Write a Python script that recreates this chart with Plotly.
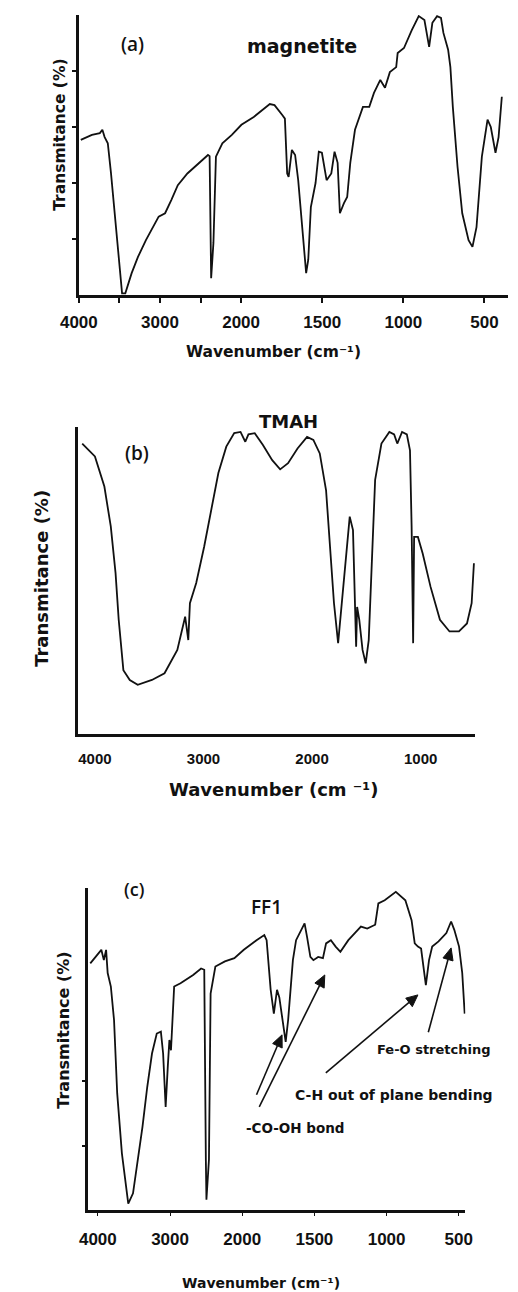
import plotly.graph_objects as go

# ---------------- data ----------------
wn_a = [3976, 3900, 3839, 3741, 3710, 3682, 3643, 3604, 3565, 3506, 3467, 3427, 3349, 3271, 3173,
        3016, 2937, 2859, 2780, 2662, 2545, 2408, 2388, 2369, 2341, 2310, 2231, 2114, 1998, 1922,
        1823, 1794, 1745, 1730, 1716, 1707, 1687, 1667, 1648, 1619, 1599, 1586, 1570, 1541, 1521,
        1502, 1473, 1444, 1424, 1405, 1391, 1366, 1346, 1327, 1298, 1249, 1210, 1181, 1142, 1113,
        1083, 1044, 1035, 996, 948, 905, 870, 841, 821, 792, 768, 753, 724, 710, 695, 666, 637,
        598, 574, 549, 516, 481, 461, 432, 413, 393]
t_a = [2.77, 2.82, 2.86, 2.89, 2.95, 2.82, 2.71, 2.18, 1.57, 0.75, 0.03, 0.03, 0.39, 0.68, 0.98,
       1.40, 1.46, 1.70, 1.96, 2.17, 2.32, 2.50, 2.48, 0.30, 0.93, 2.47, 2.71, 2.86, 3.04, 3.18,
       3.41, 3.39, 3.21, 3.15, 2.17, 2.11, 2.59, 2.50, 2.05, 1.11, 0.39, 0.63, 1.57, 2.00, 2.56,
       2.54, 2.05, 2.17, 2.56, 2.36, 1.46, 1.64, 1.75, 2.36, 2.95, 3.36, 3.36, 3.61, 3.84, 3.70,
       3.98, 4.07, 4.32, 4.41, 4.73, 4.98, 4.91, 4.43, 4.86, 4.98, 4.95, 4.68, 4.38, 4.07, 3.36,
       2.29, 1.46, 0.98, 0.86, 1.21, 2.47, 3.13, 3.00, 2.54, 2.82, 3.54]

wn_b = [4117, 4000, 3913, 3854, 3810, 3781, 3738, 3679, 3606, 3475, 3359, 3241, 3169, 3155, 3140,
        3125, 3067, 2994, 2921, 2863, 2790, 2717, 2659, 2615, 2586, 2528, 2454, 2367, 2294, 2221,
        2134, 2046, 1988, 1929, 1871, 1842, 1798, 1760, 1725, 1682, 1653, 1623, 1609, 1594, 1585,
        1565, 1535, 1506, 1478, 1449, 1419, 1361, 1288, 1244, 1215, 1171, 1127, 1098, 1083, 1069,
        1060, 1025, 981, 909, 822, 734, 647, 573, 530, 509]
t_b = [4.73, 4.52, 4.03, 3.38, 2.62, 1.86, 1.04, 0.88, 0.80, 0.88, 0.99, 1.37, 1.91, 1.75, 1.53,
       2.13, 2.46, 3.05, 3.70, 4.25, 4.68, 4.90, 4.92, 4.76, 4.88, 4.90, 4.71, 4.46, 4.31, 4.41,
       4.65, 4.84, 4.79, 4.57, 3.97, 3.21, 2.13, 1.48, 2.13, 3.05, 3.54, 3.32, 2.13, 1.42, 2.07,
       1.86, 1.37, 1.15, 1.53, 2.94, 4.14, 4.73, 4.92, 4.88, 4.73, 4.92, 4.88, 4.62, 3.38, 1.48,
       3.21, 3.21, 2.94, 2.40, 1.86, 1.67, 1.67, 1.80, 2.13, 2.78]

wn_c = [4105, 3996, 3952, 3917, 3886, 3864, 3820, 3776, 3732, 3667, 3600, 3579, 3513, 3447, 3382,
        3316, 3250, 3184, 3127, 3096, 3061, 3031, 3009, 2987, 2943, 2855, 2680, 2570, 2526, 2504,
        2496, 2461, 2438, 2372, 2240, 2109, 1989, 1901, 1847, 1831, 1803, 1781, 1759, 1743, 1715,
        1699, 1682, 1649, 1627, 1568, 1551, 1528, 1507, 1474, 1441, 1419, 1386, 1353, 1320, 1265,
        1199, 1178, 1134, 1079, 1057, 1013, 936, 870, 827, 805, 783, 761, 728, 706, 684, 640, 586,
        553, 531, 498, 476, 459]
t_c = [3.83, 3.99, 4.04, 3.88, 4.04, 3.68, 3.47, 2.95, 1.81, 0.88, 0.25, 0.10, 0.26, 0.78, 1.29,
       1.91, 2.43, 2.74, 2.77, 2.43, 1.60, 2.23, 2.64, 2.48, 3.47, 3.52, 3.65, 3.75, 3.73, 0.78,
       0.16, 0.78, 3.36, 3.78, 3.86, 3.91, 4.04, 4.19, 4.27, 4.19, 3.42, 3.05, 3.42, 3.30, 2.85,
       2.61, 2.95, 3.88, 4.19, 4.45, 4.24, 3.93, 3.88, 3.93, 3.91, 4.14, 4.19, 4.09, 4.01, 4.19,
       4.35, 4.40, 4.37, 4.43, 4.76, 4.81, 4.94, 4.81, 4.50, 4.14, 4.09, 4.06, 3.49, 3.88, 4.09,
       4.17, 4.30, 4.48, 4.35, 4.09, 3.68, 3.05]

ticks_a = [4000, 3000, 2000, 1500, 1000, 500]
minor_ticks_a = [3500, 2500]
ticks_b = [4000, 3000, 2000, 1000]
ticks_c = [4000, 3000, 2000, 1500, 1000, 500]

# arrows of panel (c): (head wavenumber, head T, tail wavenumber, tail T)
arrows_c = [(1724, 2.72, 1901, 1.79),
            (1428, 3.65, 1882, 1.60),
            (783, 3.34, 1421, 2.13),
            (553, 4.07, 711, 2.76)]


def split_scale(w):
    """Instrument x scale: 2x expanded below 2000 cm-1."""
    return (4000 - w) / 2 if w >= 2000 else 1000 + (2000 - w)


W, H = 518, 1292
def px(x):
    return x / W
def py(y):
    return 1 - y / H

BOLD = "DejaVu Sans, Arial, sans-serif"
TICKF = "Arial, Liberation Sans, sans-serif"
LIGHT = "Open Sans, sans-serif"
BLACK = "#111111"

# panel (c) frame (pixels) and ranges
C_X0, C_X1, C_Y0, C_Y1 = 73, 470, 888, 1210
C_URANGE = [-66, 2546]
C_TRANGE = [0, 5]

fig = go.Figure()
fig.add_trace(go.Scatter(x=[split_scale(w) for w in wn_a], y=t_a, mode="lines",
                         line=dict(color=BLACK, width=1.8), xaxis="x", yaxis="y"))
fig.add_trace(go.Scatter(x=wn_b, y=t_b, mode="lines",
                         line=dict(color=BLACK, width=1.8), xaxis="x2", yaxis="y2"))
fig.add_trace(go.Scatter(x=[split_scale(w) for w in wn_c], y=t_c, mode="lines",
                         line=dict(color=BLACK, width=1.8), xaxis="x3", yaxis="y3"))

common_x = dict(showgrid=False, zeroline=False, showline=True, linecolor=BLACK, linewidth=2.5,
                tickmode="array")
common_y = dict(showgrid=False, zeroline=False, showline=True, linecolor=BLACK, linewidth=2.5,
                showticklabels=False, range=[0, 5])

fig.update_layout(
    width=W, height=H, autosize=False, margin=dict(l=0, r=0, t=0, b=0),
    paper_bgcolor="white", plot_bgcolor="white", showlegend=False,
    xaxis=dict(common_x, domain=[px(63), px(515)], range=[0, 2646], anchor="y",
               tickvals=[split_scale(t) for t in ticks_a], ticktext=[str(t) for t in ticks_a],
               ticks="outside", ticklen=5, tickwidth=1.5, tickcolor=BLACK, ticklabelstandoff=5,
               minor=dict(tickvals=[split_scale(t) for t in minor_ticks_a], ticks="outside",
                          ticklen=5, tickwidth=1.5, tickcolor=BLACK),
               tickfont=dict(family=TICKF, size=17, color=BLACK, weight="bold")),
    yaxis=dict(common_y, domain=[py(295), py(15)], anchor="x",
               tickmode="array", tickvals=[1, 2, 3, 4], ticks="outside", ticklen=4,
               tickwidth=1.5, tickcolor=BLACK),
    xaxis2=dict(common_x, domain=[px(62), px(480)], range=[4157, 500], anchor="y2",
                tickvals=ticks_b, ticktext=[str(t) for t in ticks_b],
                ticks="", ticklabelstandoff=9,
                tickfont=dict(family=TICKF, size=15, color=BLACK, weight="bold")),
    yaxis2=dict(common_y, domain=[py(734), py(427)], anchor="x2", ticks=""),
    xaxis3=dict(common_x, domain=[px(C_X0), px(C_X1)], range=C_URANGE, anchor="y3",
                tickvals=[split_scale(t) for t in ticks_c], ticktext=[str(t) for t in ticks_c],
                ticks="outside", ticklen=3, tickwidth=1, tickcolor=BLACK, ticklabelstandoff=9,
                tickfont=dict(family=TICKF, size=17, color=BLACK, weight="bold")),
    yaxis3=dict(common_y, domain=[py(C_Y1), py(C_Y0)], anchor="x3",
                tickmode="array", tickvals=[1, 2], ticks="outside", ticklen=4,
                tickwidth=1.5, tickcolor=BLACK),
)

ann = []
def text(x, y, s, size, weight="bold", angle=0, family=BOLD):
    ann.append(dict(x=px(x), y=py(y), xref="paper", yref="paper", text=s, showarrow=False,
                    textangle=angle, xanchor="center", yanchor="middle",
                    font=dict(family=family, size=size, color=BLACK, weight=weight)))

# panel labels / sample names
text(120, 44, "(a)", 19, weight=600, family=LIGHT)
text(298, 46, "magnetite", 19)
text(124, 453, "(b)", 19, weight=600, family=LIGHT)
text(284, 421, "TMAH", 18)
text(121, 889, "(c)", 18, weight=600, family=LIGHT)
text(261, 907, "FF1", 19, weight=600, family=LIGHT)

# axis titles
text(43, 135, "Transmitance (%)", 15.5, angle=-90)
text(268, 352, "Wavenumber (cm⁻¹)", 15.5)
text(23, 578, "Transmitance (%)", 18, angle=-90)
text(268, 790, "Wavenumber (cm ⁻¹)", 18)
text(46, 1030, "Transmitance (%)", 16, angle=-90)
text(255, 1283, "Wavenumber (cm⁻¹)", 14)

# band assignments
text(437, 1049, "Fe-O stretching", 13)
text(395, 1095, "C-H out of plane bending", 14)
text(291, 1128, "-CO-OH bond", 13.5)


# arrows drawn as shapes (shaft + filled head) in paper coordinates
def c_to_pixel(w, t):
    u = split_scale(w)
    xp = C_X0 + (u - C_URANGE[0]) / (C_URANGE[1] - C_URANGE[0]) * (C_X1 - C_X0)
    yp = C_Y1 - (t - C_TRANGE[0]) / (C_TRANGE[1] - C_TRANGE[0]) * (C_Y1 - C_Y0)
    return xp, yp


shapes = []
HEAD_L, HEAD_W = 12, 5.5
for hw, ht, tw, tt in arrows_c:
    hx, hy = c_to_pixel(hw, ht)
    tx, ty = c_to_pixel(tw, tt)
    dx, dy = hx - tx, hy - ty
    n = (dx * dx + dy * dy) ** 0.5
    ux, uy = dx / n, dy / n
    bx, by = hx - ux * HEAD_L, hy - uy * HEAD_L
    shapes.append(dict(type="line", xref="paper", yref="paper",
                       x0=px(tx), y0=py(ty), x1=px(bx), y1=py(by),
                       line=dict(color=BLACK, width=1.6)))
    p1 = (bx - uy * HEAD_W, by + ux * HEAD_W)
    p2 = (bx + uy * HEAD_W, by - ux * HEAD_W)
    path = (f"M {px(hx)},{py(hy)} L {px(p1[0])},{py(p1[1])} "
            f"L {px(p2[0])},{py(p2[1])} Z")
    shapes.append(dict(type="path", xref="paper", yref="paper", path=path,
                       fillcolor=BLACK, line=dict(color=BLACK, width=1)))

fig.update_layout(annotations=ann, shapes=shapes)
fig.write_html("out.html")
